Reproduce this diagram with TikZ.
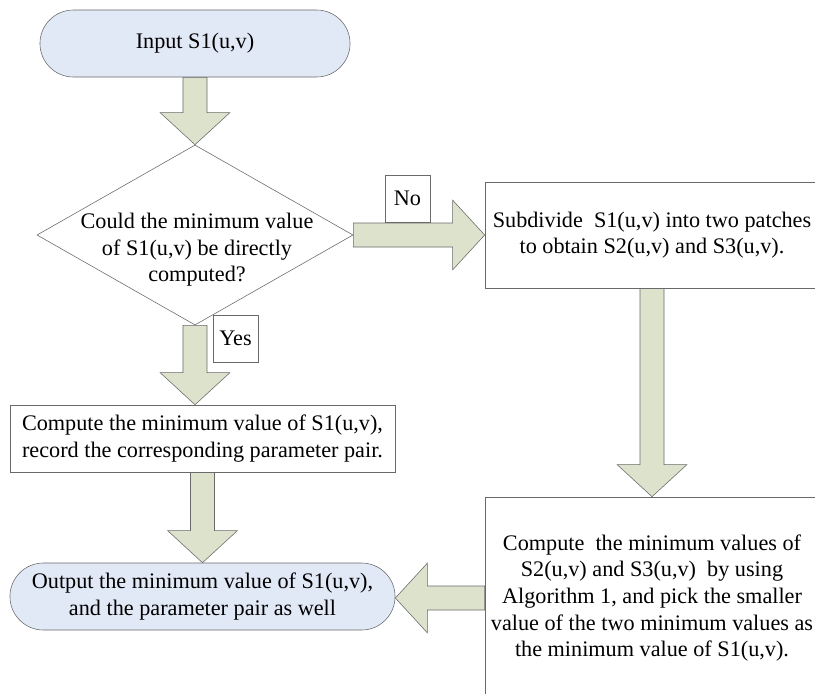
\documentclass[tikz,border=0pt]{standalone}
\usepackage{fontspec}
\setmainfont{Liberation Serif}
\usepackage{tikz}
\usetikzlibrary{shapes.geometric}
\usetikzlibrary{shapes.misc}
\usetikzlibrary{positioning}
\usetikzlibrary{calc}
\pgfdeclarelayer{nodelayer}
\pgfdeclarelayer{edgelayer}
\pgfsetlayers{edgelayer,nodelayer,main}
\definecolor{termblue}{RGB}{226,233,246}
\definecolor{fatgreen}{RGB}{221,226,205}
\definecolor{edgegray}{RGB}{105,105,105}
\newcommand{\shaftw}{0.3cm}
\newcommand{\headw}{0.87cm}
\newcommand{\headl}{0.8cm}
\tikzset{every node/.append style={font=\fontsize{15.8}{18.9}\selectfont}}
\tikzset{term/.style={rounded rectangle, draw=edgegray, fill=termblue, inner sep=0pt,
align=center, minimum height=1.675cm}}
\tikzset{box/.style={rectangle, draw=edgegray, fill=white, inner sep=0pt, align=center}}
\tikzset{flag/.style={box, minimum width=1.125cm, minimum height=1.175cm}}
\tikzset{fat/.style={draw=edgegray, fill=fatgreen, line join=miter}}
\tikzset{%
fatdown/.style={to path={let \p1=(\tikztostart), \p2=(\tikztotarget) in
(\x1-\shaftw,\y1) -- (\x1-\shaftw,\y2+\headl) -- (\x1-\headw,\y2+\headl) -- (\x1,\y2)
-- (\x1+\headw,\y2+\headl) -- (\x1+\shaftw,\y2+\headl) -- (\x1+\shaftw,\y1) -- cycle}},
fatright/.style={to path={let \p1=(\tikztostart), \p2=(\tikztotarget) in
(\x1,\y1-\shaftw) -- (\x2-\headl,\y1-\shaftw) -- (\x2-\headl,\y1-\headw) -- (\x2,\y1)
-- (\x2-\headl,\y1+\headw) -- (\x2-\headl,\y1+\shaftw) -- (\x1,\y1+\shaftw) -- cycle}},
fatleft/.style={to path={let \p1=(\tikztostart), \p2=(\tikztotarget) in
(\x1,\y1-\shaftw) -- (\x2+\headl,\y1-\shaftw) -- (\x2+\headl,\y1-\headw) -- (\x2,\y1)
-- (\x2+\headl,\y1+\headw) -- (\x2+\headl,\y1+\shaftw) -- (\x1,\y1+\shaftw) -- cycle}}
}

\begin{document}
\begin{tikzpicture}[x=0.025cm, y=-0.025cm]
	\useasboundingbox (0,0) rectangle (815,693);
	\begin{pgfonlayer}{nodelayer}
		\node [term, minimum width=7.75cm] (0) at (195,43.5) {Input S1(u,v)};
		\node [diamond, draw=edgegray, fill=white, inner sep=0pt, aspect=1.756,
		       minimum width=7.9cm, minimum height=4.5cm] (1) at (195,235) {};
		\node [align=center, inner sep=0pt] (1a) at (197,250)
		      {Could the minimum value\\of S1(u,v) be directly\\computed?};
		\node [box, minimum width=8.35cm, minimum height=2.65cm] (2) at (652,235)
		      {Subdivide\ \ S1(u,v) into two patches\\to obtain S2(u,v) and S3(u,v).};
		\node [flag] (3) at (407.5,198.5) {No};
		\node [flag] (7) at (235.5,338.5) {Yes};
		\node [box, minimum width=9.625cm, minimum height=1.675cm] (4) at (202.5,438.5)
		      {Compute the minimum value of S1(u,v),\\record the corresponding parameter pair.};
		\node [box, minimum width=8.35cm, minimum height=5.05cm] (5) at (652,598)
		      {Compute\ \ the minimum values of\\S2(u,v) and S3(u,v)\ \ by using\\Algorithm 1, and pick the smaller\\value of the two minimum values as\\the minimum value of S1(u,v).};
		\node [term, minimum width=9.625cm] (6) at (202.5,596.5)
		      {Output the minimum value of S1(u,v),\\and the parameter pair as well};
	\end{pgfonlayer}
	\begin{pgfonlayer}{edgelayer}
		\draw [fat, fatdown] (0.south) to (1.north);
		\draw [fat, fatright] (1.east) to (2.west);
		\draw [fat, fatdown] (1.south) to (1.south |- 4.north);
		\draw [fat, fatdown] (2.south) to (5.north);
		\draw [fat, fatdown] (4.south) to (6.north);
		\draw [fat, fatleft] (5.west) to (6.east);
	\end{pgfonlayer}
\end{tikzpicture}
\end{document}
